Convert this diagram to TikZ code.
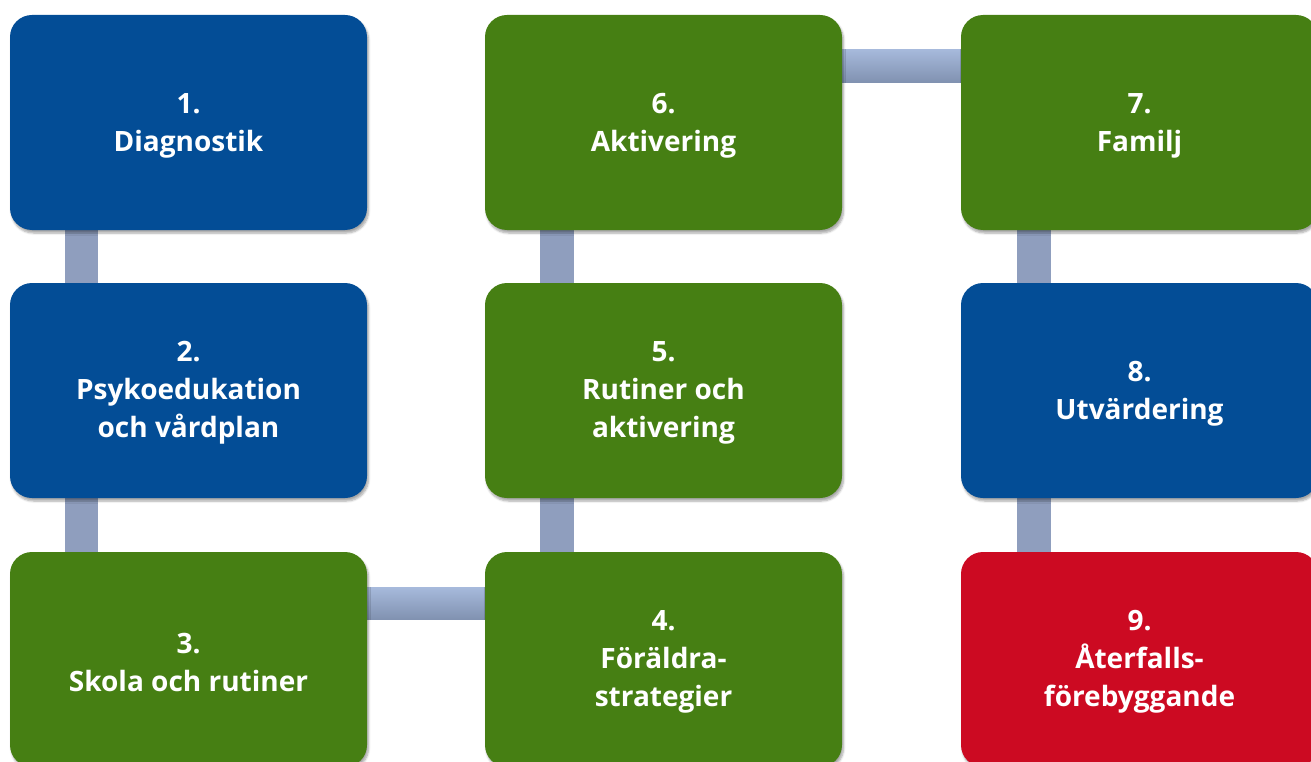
\documentclass[tikz,border=0pt]{standalone}
\usepackage{fontspec}
\setmainfont{Open Sans}
\usetikzlibrary{shadows.blur}
\definecolor{stepblue}{RGB}{3,77,150}
\definecolor{stepgreen}{RGB}{70,127,19}
\definecolor{stepred}{RGB}{204,10,34}
\definecolor{linktop}{RGB}{166,185,219}
\definecolor{linkbottom}{RGB}{128,145,176}
\definecolor{linkflat}{RGB}{143,158,190}
\begin{document}
\begin{tikzpicture}[x=1pt,y=-1pt,
  frame/.style={minimum width=357pt, minimum height=215pt, inner sep=0pt},
  stepbox/.style={frame, rounded corners=22pt,
    blur shadow={shadow xshift=1.5pt, shadow yshift=-3pt, shadow opacity=35, shadow blur steps=6, shadow blur extra rounding=2pt}},
  steptext/.style={align=center, text=white, inner sep=0pt,
    font=\bfseries\fontsize{28}{38}\selectfont},
  vlink/.style={fill=linkflat},
  hlink/.style={top color=linktop, bottom color=linkbottom}]
\useasboundingbox (0,0) rectangle (1311,762);
\clip (0,0) rectangle (1311,762);

% column centres 188.5 / 663.5 / 1139.5, row centres 122.5 / 390.5 / 659.5
\path (188.5,122.5) coordinate (p1) (188.5,390.5) coordinate (p2) (188.5,659.5) coordinate (p3)
      (663.5,659.5) coordinate (p4) (663.5,390.5) coordinate (p5) (663.5,122.5) coordinate (p6)
      (1139.5,122.5) coordinate (p7) (1139.5,390.5) coordinate (p8) (1139.5,659.5) coordinate (p9);

% invisible frames first, so the links can refer to them
\foreach \i in {1,...,9} \node[frame] (f\i) at (p\i) {};

% links between the steps
\fill[vlink] ([xshift=55pt,yshift=10pt]f1.south west) rectangle ([xshift=88pt,yshift=-10pt]f2.north west);
\fill[vlink] ([xshift=55pt,yshift=10pt]f2.south west) rectangle ([xshift=88pt,yshift=-10pt]f3.north west);
\shade[hlink] ([xshift=-10pt,yshift=-36pt]f3.north east) rectangle ([xshift=10pt,yshift=-68pt]f4.north west);
\fill[vlink] ([xshift=55pt,yshift=10pt]f5.south west) rectangle ([xshift=89pt,yshift=-10pt]f4.north west);
\fill[vlink] ([xshift=55pt,yshift=10pt]f6.south west) rectangle ([xshift=89pt,yshift=-10pt]f5.north west);
\shade[hlink] ([xshift=-10pt,yshift=-35pt]f6.north east) rectangle ([xshift=10pt,yshift=-68pt]f7.north west);
\fill[vlink] ([xshift=56pt,yshift=10pt]f7.south west) rectangle ([xshift=90pt,yshift=-10pt]f8.north west);
\fill[vlink] ([xshift=56pt,yshift=10pt]f8.south west) rectangle ([xshift=90pt,yshift=-10pt]f9.north west);

% the nine steps
\node[stepbox, fill=stepblue]  (b1) at (p1) {};
\node[stepbox, fill=stepblue]  (b2) at (p2) {};
\node[stepbox, fill=stepgreen] (b3) at (p3) {};
\node[stepbox, fill=stepgreen] (b4) at (p4) {};
\node[stepbox, fill=stepgreen] (b5) at (p5) {};
\node[stepbox, fill=stepgreen] (b6) at (p6) {};
\node[stepbox, fill=stepgreen] (b7) at (p7) {};
\node[stepbox, fill=stepblue]  (b8) at (p8) {};
\node[stepbox, fill=stepred]   (b9) at (p9) {};

% their labels
\node[steptext] (t1) at ([yshift=-3pt]b1.center) {1.\\Diagnostik};
\node[steptext] (t2) at ([yshift=-2pt]b2.center) {2.\\Psykoedukation\\och vårdplan};
\node[steptext] (t3) at ([yshift=-3pt]b3.center) {3.\\Skola och rutiner};
\node[steptext] (t4) at ([yshift=-2pt]b4.center) {4.\\Föräldra-\\strategier};
\node[steptext] (t5) at ([yshift=-2pt]b5.center) {5.\\Rutiner och\\aktivering};
\node[steptext] (t6) at ([yshift=-3pt]b6.center) {6.\\Aktivering};
\node[steptext] (t7) at ([yshift=-3pt]b7.center) {7.\\Familj};
\node[steptext] (t8) at ([yshift=-3pt]b8.center) {8.\\Utvärdering};
\node[steptext] (t9) at ([yshift=-2pt]b9.center) {9.\\Återfalls-\\förebyggande};
\end{tikzpicture}
\end{document}
